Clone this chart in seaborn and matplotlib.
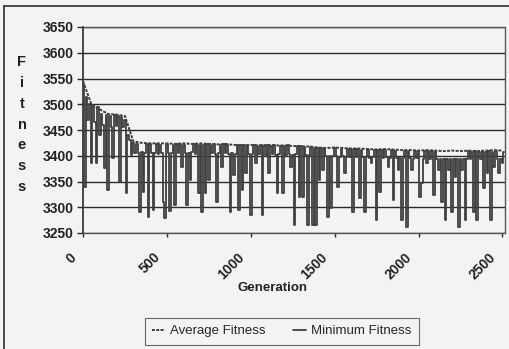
import numpy as np
import pandas as pd
import matplotlib
matplotlib.use("Agg")
import matplotlib.pyplot as plt
import matplotlib.transforms as mtransforms
from matplotlib.lines import Line2D
import seaborn as sns

# ---------------- data ----------------
generations = list(range(0, 2520, 10))          # every 10th generation
minimum_fitness = [
    3540, 3340, 3515, 3470, 3500, 3386, 3498, 3465, 3386, 3495,   # 0-90
    3440, 3482, 3460, 3376, 3480, 3333, 3478, 3455, 3396, 3480,   # 100-190
    3458, 3478, 3349, 3476, 3455, 3470, 3327, 3440, 3430, 3401,   # 200-290
    3425, 3406, 3422, 3405, 3291, 3407, 3330, 3406, 3423, 3281,   # 300-390
    3422, 3405, 3295, 3406, 3422, 3404, 3421, 3406, 3310, 3279,   # 400-490
    3422, 3405, 3292, 3406, 3421, 3304, 3422, 3405, 3423, 3378,   # 500-590
    3421, 3406, 3304, 3405, 3353, 3407, 3422, 3404, 3421, 3327,   # 600-690
    3422, 3291, 3421, 3327, 3422, 3353, 3421, 3405, 3422, 3404,   # 700-790
    3310, 3406, 3421, 3378, 3422, 3405, 3421, 3404, 3291, 3405,   # 800-890
    3363, 3404, 3421, 3294, 3420, 3333, 3421, 3367, 3420, 3404,   # 900-990
    3285, 3404, 3420, 3386, 3419, 3403, 3420, 3285, 3419, 3402,   # 1000-1090
    3420, 3367, 3419, 3403, 3420, 3402, 3327, 3403, 3419, 3327,   # 1100-1190
    3419, 3402, 3420, 3403, 3378, 3402, 3266, 3403, 3418, 3320,   # 1200-1290
    3418, 3320, 3417, 3402, 3266, 3401, 3417, 3266, 3416, 3266,   # 1300-1390
    3416, 3353, 3415, 3372, 3416, 3400, 3281, 3399, 3298, 3400,   # 1400-1490
    3415, 3399, 3339, 3398, 3414, 3399, 3367, 3398, 3414, 3397,   # 1500-1590
    3413, 3291, 3414, 3398, 3413, 3318, 3412, 3397, 3291, 3398,   # 1600-1690
    3412, 3396, 3386, 3397, 3411, 3275, 3412, 3330, 3411, 3396,   # 1700-1790
    3412, 3397, 3378, 3396, 3411, 3314, 3410, 3396, 3372, 3395,   # 1800-1890
    3275, 3396, 3410, 3262, 3410, 3395, 3372, 3394, 3409, 3395,   # 1900-1990
    3409, 3320, 3347, 3394, 3409, 3386, 3410, 3393, 3409, 3324,   # 2000-2090
    3408, 3394, 3372, 3393, 3310, 3394, 3275, 3393, 3372, 3394,   # 2100-2190
    3291, 3393, 3359, 3394, 3262, 3393, 3372, 3394, 3275, 3393,   # 2200-2290
    3409, 3393, 3408, 3291, 3409, 3275, 3408, 3394, 3409, 3337,   # 2300-2390
    3408, 3367, 3409, 3275, 3408, 3378, 3410, 3393, 3367, 3394,   # 2400-2490
    3386, 3408,                                                   # 2500-2510
]

avg_generations = list(range(0, 2550, 50))      # every 50th generation
average_fitness = [
    3545, 3500, 3490, 3481, 3480, 3477, 3428, 3425, 3424, 3424,
    3424, 3423, 3424, 3423, 3424, 3423, 3422, 3423, 3421, 3420,
    3421, 3420, 3421, 3420, 3420, 3419, 3418, 3418, 3416, 3415,
    3416, 3415, 3414, 3414, 3413, 3412, 3413, 3412, 3411, 3411,
    3410, 3411, 3410, 3409, 3410, 3409, 3410, 3409, 3410, 3411,
    3410,
]

y_ticks = [3250, 3300, 3350, 3400, 3450, 3500, 3550, 3600, 3650]
x_ticks = [0, 500, 1000, 1500, 2000, 2500]

# ---------------- style ----------------
sns.set_theme(style="white")
plt.rcParams["font.family"] = ["Liberation Sans", "DejaVu Sans"]
bg = "#f3f3f1"
ink = "#2b2b2b"

fig = plt.figure(figsize=(5.09, 3.49), dpi=100, facecolor=bg)
ax = fig.add_axes([83 / 509, 1 - 233 / 349, (505 - 83) / 509, (233 - 27) / 349])
ax.set_facecolor(bg)

df_min = pd.DataFrame({"Generation": generations, "Fitness": minimum_fitness})
df_avg = pd.DataFrame({"Generation": avg_generations, "Fitness": average_fitness})

sns.lineplot(data=df_avg, x="Generation", y="Fitness", ax=ax, color="#3c3c3c",
             lw=1.4, linestyle=(0, (1.5, 0.7)), label="Average Fitness", zorder=3)
sns.lineplot(data=df_min, x="Generation", y="Fitness", ax=ax, color="#404040",
             lw=1.3, drawstyle="steps-mid", label="Minimum Fitness", zorder=4)

ax.set_xlim(0, 2515)
ax.set_ylim(3250, 3650)
ax.set_yticks(y_ticks)
ax.set_xticks(x_ticks)
ax.yaxis.grid(True, color=ink, lw=1.0)
ax.xaxis.grid(False)
ax.set_axisbelow(True)

for s in ["top", "right", "bottom"]:
    ax.spines[s].set_linestyle((0, (1, 1)))
    ax.spines[s].set_color("#555555")
    ax.spines[s].set_linewidth(1.0)
ax.spines["left"].set_color(ink)
ax.spines["left"].set_linewidth(1.2)

ax.tick_params(axis="y", which="major", left=True, length=4, width=1, color=ink,
               labelsize=10, pad=3, labelcolor="#222222")
ax.tick_params(axis="x", which="major", bottom=True, length=3, width=1, color=ink,
               labelsize=10, pad=13, labelcolor="#222222")
for lab in ax.get_yticklabels():
    lab.set_fontweight("bold")
offset = mtransforms.ScaledTranslation(-6.5 / 72, 0, fig.dpi_scale_trans)
for lab in ax.get_xticklabels():
    lab.set_rotation(45)
    lab.set_rotation_mode("anchor")
    lab.set_ha("right")
    lab.set_va("center")
    lab.set_fontweight("bold")
    lab.set_transform(lab.get_transform() + offset)

ax.set_xlabel("")
ax.set_ylabel("")
fig.text(272 / 509, 1 - 288 / 349, "Generation", ha="center", va="center",
         fontsize=9.5, fontweight="bold", color="#222222")

# vertical, stacked y-axis title
letters = list("Fitness")
y0, y1 = 62, 187
for i, ch in enumerate(letters):
    ypx = y0 + (y1 - y0) * i / (len(letters) - 1)
    fig.text(22 / 509, 1 - ypx / 349, ch, ha="center", va="center",
             fontsize=10.5, fontweight="bold", color="#222222")

# legend
handles, labels = ax.get_legend_handles_labels()
leg = fig.legend(handles, labels, loc="upper left",
                 bbox_to_anchor=(145 / 509, 1 - 318 / 349),
                 ncol=2, frameon=True, fancybox=False,
                 fontsize=9.5, handlelength=1.0, handletextpad=0.35,
                 borderpad=0.55, columnspacing=2.1, borderaxespad=0)
leg.get_frame().set_edgecolor("#444444")
leg.get_frame().set_linewidth(0.8)
leg.get_frame().set_facecolor(bg)
if ax.get_legend() is not None:
    ax.get_legend().remove()

# outer chart frame (left and top edges visible in the picture)
fig.add_artist(Line2D([4 / 509, 4 / 509], [0, 1 - 6 / 349], transform=fig.transFigure,
                      color=ink, lw=1.2))
fig.add_artist(Line2D([4 / 509, 1], [1 - 6 / 349, 1 - 6 / 349], transform=fig.transFigure,
                      color=ink, lw=1.2))

fig.savefig("out.png", dpi=100, facecolor=bg)
